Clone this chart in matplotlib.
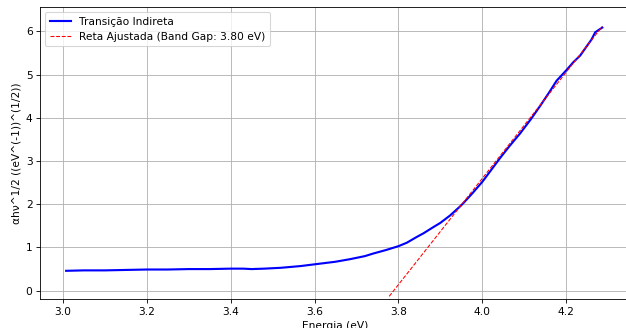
import numpy as np
import matplotlib
matplotlib.use("Agg")
import matplotlib.pyplot as plt

# Blue curve: (alpha h nu)^(1/2) vs photon energy
energy = [3.008, 3.05, 3.10, 3.15, 3.20, 3.25, 3.30, 3.35, 3.40, 3.43, 3.45, 3.48,
          3.52, 3.567, 3.60, 3.65, 3.685, 3.72, 3.74, 3.77, 3.80, 3.82, 3.843, 3.86,
          3.883, 3.90, 3.923, 3.948, 3.955, 3.975, 4.00, 4.02, 4.043, 4.065, 4.09,
          4.115, 4.138, 4.16, 4.177, 4.20, 4.217, 4.233, 4.249, 4.26, 4.269, 4.278, 4.286]
tauc = [0.46, 0.47, 0.47, 0.48, 0.49, 0.49, 0.50, 0.50, 0.51, 0.51, 0.50, 0.51,
        0.53, 0.57, 0.61, 0.67, 0.73, 0.80, 0.86, 0.94, 1.03, 1.11, 1.24, 1.33,
        1.47, 1.57, 1.74, 1.96, 2.03, 2.24, 2.52, 2.78, 3.08, 3.35, 3.64,
        3.96, 4.28, 4.60, 4.86, 5.10, 5.29, 5.44, 5.66, 5.81, 5.98, 6.04, 6.09]

# Linear fit (red dashed line)
fit_slope = 12.3
fit_intercept = -46.6
fit_x_range = [3.778, 4.286]
band_gap_label = 3.80

DPI = 76.4
fig = plt.figure(figsize=(626 / DPI, 328 / DPI), dpi=DPI)
ax = fig.add_axes([0.0639, 0.0869, 0.9425, 0.8918])

ax.plot(energy, tauc, color="blue", lw=2, label="Transição Indireta")
fx = np.linspace(fit_x_range[0], fit_x_range[1], 50)
ax.plot(fx, fit_slope * fx + fit_intercept, "r--", lw=1,
        label=f"Reta Ajustada (Band Gap: {band_gap_label:.2f} eV)")

ax.set_xlim(2.9457, 4.352)
ax.set_ylim(-0.204, 6.567)
ax.set_xticks([3.0, 3.2, 3.4, 3.6, 3.8, 4.0, 4.2])
ax.set_yticks([0, 1, 2, 3, 4, 5, 6])
ax.grid(True)
ax.set_xlabel("Energia (eV)")
ax.set_ylabel("αhν^1/2 ((eV^(-1))^(1/2))")
ax.legend(loc="upper left")

fig.savefig("out.png", dpi=DPI)
